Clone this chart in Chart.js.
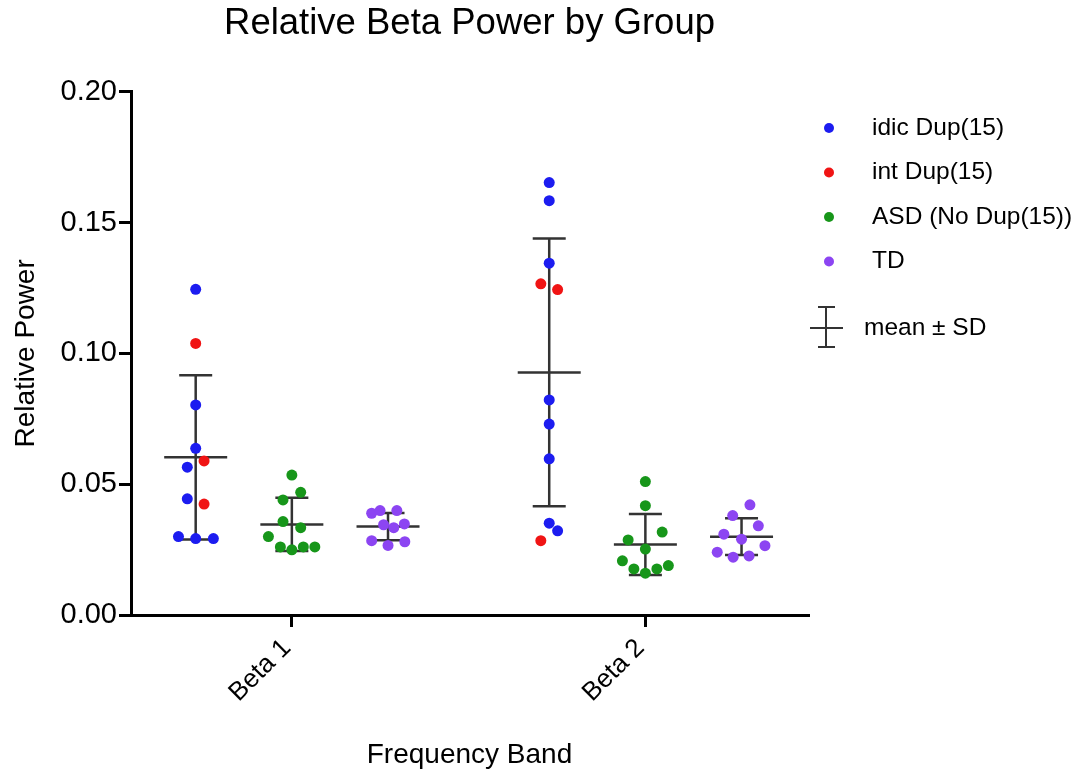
<!DOCTYPE html>
<html>
<head>
<meta charset="utf-8">
<script src="https://cdn.jsdelivr.net/npm/chart.js@4"></script>
<style>
  html, body { margin: 0; padding: 0; background: #fff; }
</style>
</head>
<body>
<canvas id="beta" width="1090" height="772"></canvas>
<script>
// Relative beta power by group, two frequency bands

const bands = ["Beta 1", "Beta 2"];
const groupNames = ["idic Dup(15)", "int Dup(15)", "ASD (No Dup(15))", "TD"];
const groupColors = ["#1c1cf0", "#f01414", "#17961a", "#8c45f2"];
const yTicks = [0, 0.05, 0.10, 0.15, 0.20];

// values: [Beta 1], [Beta 2]
const idicValues = [
  [0.1245, 0.0803, 0.0637, 0.0565, 0.0444, 0.0300, 0.0292, 0.0292],
  [0.1653, 0.1584, 0.1345, 0.0822, 0.0730, 0.0597, 0.0351, 0.0322]
];
const intValues = [
  [0.1038, 0.0589, 0.0424],
  [0.1266, 0.1244, 0.0284]
];
const asdValues = [
  [0.0535, 0.0469, 0.0440, 0.0357, 0.0334, 0.0300, 0.0260, 0.0249, 0.0260, 0.0260],
  [0.0510, 0.0418, 0.0317, 0.0287, 0.0252, 0.0207, 0.0176, 0.0160, 0.0176, 0.0189]
];
const tdValues = [
  [0.0389, 0.0399, 0.0399, 0.0345, 0.0334, 0.0348, 0.0284, 0.0266, 0.0280],
  [0.0421, 0.0380, 0.0341, 0.0309, 0.0290, 0.0265, 0.0240, 0.0221, 0.0226]
];

// horizontal scatter of each dot, in dot widths
const idicJitter = [
  [0, 0, 0, -0.95, -0.95, -1.95, 0, 2],
  [0, 0, 0, 0, 0, 0, 0, 0.95]
];
const intJitter = [
  [0, 0.95, 0.95],
  [-0.95, 0.95, -0.95]
];
const asdJitter = [
  [0, 1, -1, -1, 1, -2.65, -1.3, 0, 1.3, 2.6],
  [0, 0, 1.9, -1.95, 0, -2.6, -1.3, 0, 1.3, 2.6]
];
const tdJitter = [
  [-1.85, -0.9, 1, -0.5, 0.65, 1.85, -1.85, 0, 1.9],
  [0.95, -1, 1.9, -2, 0, 2.65, -2.75, -0.95, 0.85]
];

const COL = 0.272;    // column offset inside a band
const STEP = 0.025;   // one dot width on the x scale

function points(values, jitter, col) {
  return bands.flatMap((b, i) =>
    values[i].map((v, j) => ({ x: i + 1 + col + jitter[i][j] * STEP, y: v }))
  );
}

function meanSd(arr) {
  const m = arr.reduce((a, b) => a + b, 0) / arr.length;
  const sd = Math.sqrt(arr.reduce((a, b) => a + (b - m) * (b - m), 0) / (arr.length - 1));
  return { mean: m, sd: sd };
}

// mean ± SD per column (the two Dup(15) groups share one bar)
const summary = [];
bands.forEach((b, i) => {
  summary.push({ x: i + 1 - COL, ...meanSd(idicValues[i].concat(intValues[i])) });
  summary.push({ x: i + 1, ...meanSd(asdValues[i]) });
  summary.push({ x: i + 1 + COL, ...meanSd(tdValues[i]) });
});

const errorBars = {
  id: "errorBars",
  beforeDatasetsDraw(chart) {
    const { ctx, scales: { x, y } } = chart;
    ctx.save();
    ctx.strokeStyle = "#333";
    ctx.lineWidth = 2.5;
    summary.forEach((s) => {
      const px = x.getPixelForValue(s.x);
      const top = y.getPixelForValue(s.mean + s.sd);
      const mid = y.getPixelForValue(s.mean);
      const bot = y.getPixelForValue(s.mean - s.sd);
      ctx.beginPath();
      ctx.moveTo(px, top); ctx.lineTo(px, bot);
      ctx.moveTo(px - 31.5, mid); ctx.lineTo(px + 31.5, mid);
      ctx.moveTo(px - 16.5, top); ctx.lineTo(px + 16.5, top);
      ctx.moveTo(px - 16.5, bot); ctx.lineTo(px + 16.5, bot);
      ctx.stroke();
    });
    ctx.restore();
  }
};

// legend on the right, with the mean ± SD key
const sideLegend = {
  id: "sideLegend",
  afterDraw(chart) {
    const ctx = chart.ctx;
    ctx.save();
    ctx.font = "24.5px 'Liberation Sans', Arial, sans-serif";
    ctx.textBaseline = "middle";
    ctx.fillStyle = "#000";
    groupNames.forEach((name, i) => {
      const yy = 128 + i * 44.5;
      ctx.beginPath();
      ctx.fillStyle = groupColors[i];
      ctx.arc(829, yy, 5, 0, Math.PI * 2);
      ctx.fill();
      ctx.fillStyle = "#000";
      ctx.fillText(name, 872, yy);
    });
    ctx.strokeStyle = "#333";
    ctx.lineWidth = 2;
    ctx.beginPath();
    ctx.moveTo(826, 307); ctx.lineTo(826, 347);
    ctx.moveTo(810, 328); ctx.lineTo(843, 328);
    ctx.moveTo(818, 307); ctx.lineTo(835, 307);
    ctx.moveTo(818, 347); ctx.lineTo(835, 347);
    ctx.stroke();
    ctx.fillText("mean \u00b1 SD", 864, 328);
    ctx.restore();
  }
};

Chart.defaults.font.family = "'Liberation Sans', Arial, Helvetica, sans-serif";
Chart.defaults.color = "#000";

const ctx = document.getElementById("beta");

new Chart(ctx, {
  type: "scatter",
  data: {
    datasets: [
      { label: groupNames[0], data: points(idicValues, idicJitter, -COL) },
      { label: groupNames[1], data: points(intValues, intJitter, -COL) },
      { label: groupNames[2], data: points(asdValues, asdJitter, 0) },
      { label: groupNames[3], data: points(tdValues, tdJitter, COL) }
    ].map((d, i) => ({
      ...d,
      backgroundColor: groupColors[i],
      borderColor: groupColors[i],
      borderWidth: 0,
      pointRadius: 5.5
    }))
  },
  options: {
    responsive: false,
    animation: false,
    layout: { padding: { left: 0, right: 282, top: 0, bottom: 0 } },
    plugins: {
      legend: { display: false },
      tooltip: { enabled: false },
      title: {
        display: true,
        text: "Relative Beta Power by Group",
        fullSize: false,
        font: { size: 36.5, weight: "normal" },
        color: "#000",
        padding: { top: 2, bottom: 46 }
      }
    },
    scales: {
      x: {
        type: "linear",
        min: 0.545,
        max: 2.46,
        afterBuildTicks: (s) => { s.ticks = bands.map((b, i) => ({ value: i + 1 })); },
        afterFit: (s) => { s.height = 157; },
        ticks: {
          autoSkip: false,
          minRotation: 45,
          maxRotation: 45,
          padding: 6,
          labelOffset: -5,
          font: { size: 26 },
          color: "#000",
          callback: (v) => bands[v - 1]
        },
        grid: { drawOnChartArea: false, tickLength: 12, color: "#000", lineWidth: 3 },
        border: { color: "#000", width: 3 },
        title: {
          display: true,
          text: "Frequency Band",
          font: { size: 28 },
          color: "#000",
          padding: { top: 0, bottom: 0 }
        }
      },
      y: {
        min: 0,
        max: 0.2,
        afterBuildTicks: (s) => { s.ticks = yTicks.map((v) => ({ value: v })); },
        afterFit: (s) => { s.width = 131; },
        ticks: {
          padding: 2,
          font: { size: 29 },
          color: "#000",
          callback: (v) => v.toFixed(2)
        },
        grid: { drawOnChartArea: false, tickLength: 12, color: "#000", lineWidth: 3 },
        border: { color: "#000", width: 3 },
        title: {
          display: true,
          text: "Relative Power",
          font: { size: 28 },
          color: "#000",
          padding: { top: 9, bottom: 0 }
        }
      }
    }
  },
  plugins: [errorBars, sideLegend]
});
</script>
</body>
</html>
